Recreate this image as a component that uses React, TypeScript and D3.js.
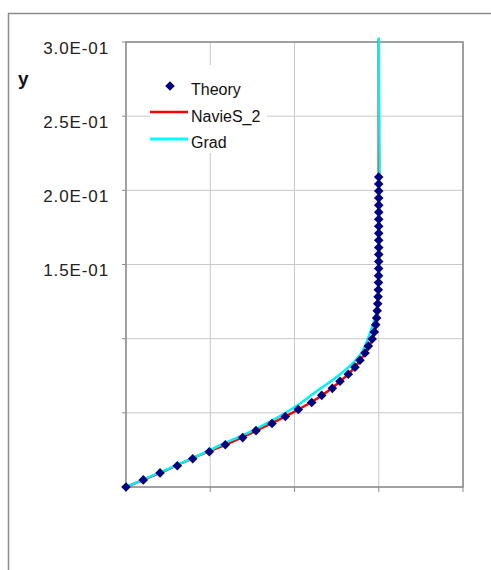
import React from "react";
import * as d3 from "d3";

// ---- data ----
const theoryY = [
  0, 0.0048, 0.0095, 0.0143, 0.019, 0.0238, 0.0285, 0.0333, 0.038, 0.0428,
  0.0475, 0.0523, 0.057, 0.0618, 0.0665, 0.0713, 0.076, 0.0808, 0.0855, 0.0903,
  0.095, 0.0998, 0.1045, 0.1093, 0.114, 0.1188, 0.1235, 0.1283, 0.133, 0.1378,
  0.1425, 0.1473, 0.152, 0.1568, 0.1615, 0.1663, 0.171, 0.1758, 0.1805, 0.1853,
  0.19, 0.1948, 0.1995, 0.2043, 0.209,
];
const theoryX = [
  0, 20.5, 40.4, 60.9, 79.2, 98.9, 117.9, 138.5, 154.3, 173.3,
  189.1, 204.5, 220.4, 232.3, 244.9, 254, 263.8, 271.8, 277.7, 283.7,
  287.6, 292.2, 294.7, 296.4, 297.5, 298.2, 298.8, 299.2, 299.5, 299.7,
  299.8, 299.9, 300, 300, 300, 300, 300, 300, 300, 300,
  300, 300, 300, 300, 300,
];

const navierY = [0, 0.01, 0.02, 0.03, 0.04, 0.05, 0.06, 0.07, 0.08, 0.09, 0.1, 0.11, 0.12, 0.14, 0.16, 0.2, 0.25, 0.302];
const navierX = [0, 42.4, 81.2, 124, 162, 197.3, 227.9, 251.6, 270.5, 283.4, 292.9, 296.8, 298.5, 299.7, 300, 300, 300, 300];

const gradY = [0, 0.01, 0.02, 0.03, 0.035, 0.0406, 0.0463, 0.0553, 0.0632, 0.0733, 0.0811, 0.0901, 0.1036, 0.115, 0.13, 0.16, 0.22, 0.303];
const gradX = [0, 41, 81, 119, 139, 159, 178, 204, 223, 248, 265, 279, 289.5, 296, 299.5, 301, 301, 300];

const yTicks = [0, 0.05, 0.1, 0.15, 0.2, 0.25, 0.3];
const yTickLabels = ["", "", "", "1.5E-01", "2.0E-01", "2.5E-01", "3.0E-01"];
const xTicks = [0, 100, 200, 300, 400];

const legendItems = ["Theory", "NavieS_2", "Grad"];

export default function App() {
  const left = 126, right = 463, top = 42, bottom = 487;
  const x = d3.scaleLinear().domain([0, 400]).range([left, right]);
  const y = d3.scaleLinear().domain([0, 0.3]).range([bottom, top]);

  const line = d3
    .line<[number, number]>()
    .x((d) => x(d[0]))
    .y((d) => y(d[1]))
    .curve(d3.curveMonotoneY);

  const navier = navierX.map((v, i) => [v, navierY[i]] as [number, number]);
  const grad = gradX.map((v, i) => [v, gradY[i]] as [number, number]);
  const diamond = d3.symbol(d3.symbolSquare, 46)() as string;

  const font = "Arial, 'Liberation Sans', sans-serif";
  const gridColor = "#c8c8c8";
  const axisColor = "#8a8a8a";

  return (
    <svg
      width={491}
      height={570}
      style={{ position: "absolute", left: 0, top: 0, background: "#fff" }}
    >
      {/* outer chart border */}
      <rect x={8.5} y={13.5} width={600} height={700} fill="#fff" stroke="#8c8c8c" strokeWidth={1.5} />

      {/* gridlines */}
      {xTicks.map((t) => (
        <line key={"gx" + t} x1={x(t)} x2={x(t)} y1={top} y2={bottom} stroke={gridColor} strokeWidth={1} />
      ))}
      {yTicks.map((t) => (
        <line key={"gy" + t} x1={left} x2={right} y1={y(t)} y2={y(t)} stroke={gridColor} strokeWidth={1} />
      ))}

      {/* plot border */}
      <rect x={left} y={top} width={right - left} height={bottom - top} fill="none" stroke={axisColor} strokeWidth={1.5} />

      {/* tick marks */}
      {yTicks.map((t) => (
        <line key={"ty" + t} x1={left - 4} x2={left} y1={y(t)} y2={y(t)} stroke={axisColor} strokeWidth={1} />
      ))}
      {xTicks.map((t) => (
        <line key={"tx" + t} x1={x(t)} x2={x(t)} y1={bottom} y2={bottom + 5} stroke={axisColor} strokeWidth={1} />
      ))}

      {/* y tick labels */}
      {yTicks.map((t, i) =>
        yTickLabels[i] ? (
          <text
            key={"ly" + t}
            x={109}
            y={y(t) + 11.5}
            textAnchor="end"
            fontFamily={font}
            fontSize={17}
            letterSpacing={0.9}
            fill="#222"
          >
            {yTickLabels[i]}
          </text>
        ) : null
      )}

      {/* axis title */}
      <text x={18} y={85} fontFamily={font} fontSize={19} fontWeight="bold" fill="#111">
        y
      </text>

      {/* legend */}
      <rect x={150} y={65} width={117} height={88} fill="#fff" />
      <path d={diamond} transform={`translate(170,86) rotate(45)`} fill="#000080" />
      <line x1={150} x2={188} y1={112} y2={112} stroke="#ff0000" strokeWidth={2.5} />
      <line x1={150} x2={188} y1={139} y2={139} stroke="#00ffff" strokeWidth={3} />
      {legendItems.map((s, i) => (
        <text key={s} x={191} y={95 + i * 26.5} fontFamily={font} fontSize={16} fill="#111">
          {s}
        </text>
      ))}

      {/* series */}
      <path d={line(navier) as string} fill="none" stroke="#ff0000" strokeWidth={2.5} />
      <path d={line(grad) as string} fill="none" stroke="#00f2f2" strokeWidth={2.5} />
      {theoryX.map((v, i) => (
        <path key={"p" + i} d={diamond} transform={`translate(${x(v)},${y(theoryY[i])}) rotate(45)`} fill="#000080" />
      ))}
    </svg>
  );
}
